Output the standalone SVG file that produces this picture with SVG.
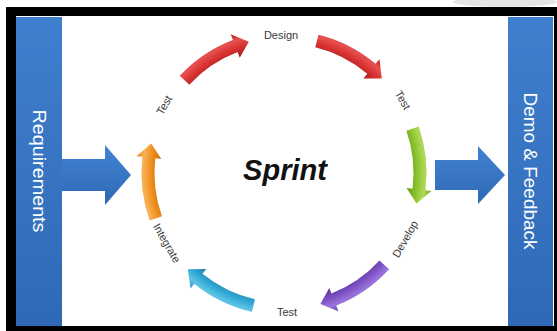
<svg xmlns="http://www.w3.org/2000/svg" xmlns:xlink="http://www.w3.org/1999/xlink" width="557" height="331" viewBox="0 0 557 331">
  <style>
    .lbl { font-family: "Liberation Sans", Arial, sans-serif; font-size: 11px; fill: #3a3a3a; text-anchor: middle; dominant-baseline: central; }
    .bartxt { font-family: "Liberation Sans", Arial, sans-serif; font-size: 18px; fill: #ffffff; text-anchor: middle; dominant-baseline: central; }
    .title { font-family: "Liberation Sans", Arial, sans-serif; font-size: 29px; font-weight: bold; font-style: italic; fill: #111111; text-anchor: middle; }
  </style>
  <defs>
    <linearGradient id="barG" x1="0" y1="0" x2="0" y2="1">
      <stop offset="0" stop-color="#3f7fcd"/>
      <stop offset="1" stop-color="#2f69b6"/>
    </linearGradient>
    <linearGradient id="blueArr" x1="0" y1="0" x2="0" y2="1">
      <stop offset="0" stop-color="#4283d2"/>
      <stop offset="1" stop-color="#2e68b4"/>
    </linearGradient>
    <radialGradient id="gRed" gradientUnits="userSpaceOnUse" cx="284" cy="173" r="148.5">
      <stop offset="0.83" stop-color="#a51a1a"/>
      <stop offset="0.9" stop-color="#d83232"/>
      <stop offset="0.95" stop-color="#e85050"/>
      <stop offset="1" stop-color="#b82020"/>
    </radialGradient>
    <radialGradient id="gGreen" gradientUnits="userSpaceOnUse" cx="284" cy="173" r="148.5">
      <stop offset="0.83" stop-color="#5f9214"/>
      <stop offset="0.9" stop-color="#8cc52e"/>
      <stop offset="0.95" stop-color="#b0da5a"/>
      <stop offset="1" stop-color="#78ad22"/>
    </radialGradient>
    <radialGradient id="gPurple" gradientUnits="userSpaceOnUse" cx="284" cy="173" r="148.5">
      <stop offset="0.83" stop-color="#55309a"/>
      <stop offset="0.9" stop-color="#7d52c4"/>
      <stop offset="0.95" stop-color="#9a74dc"/>
      <stop offset="1" stop-color="#6a42b0"/>
    </radialGradient>
    <radialGradient id="gCyan" gradientUnits="userSpaceOnUse" cx="284" cy="173" r="148.5">
      <stop offset="0.83" stop-color="#1b7ea8"/>
      <stop offset="0.9" stop-color="#30a8d4"/>
      <stop offset="0.95" stop-color="#5ec4e6"/>
      <stop offset="1" stop-color="#2496c2"/>
    </radialGradient>
    <radialGradient id="gOrange" gradientUnits="userSpaceOnUse" cx="284" cy="173" r="148.5">
      <stop offset="0.83" stop-color="#c86c08"/>
      <stop offset="0.9" stop-color="#f0901e"/>
      <stop offset="0.95" stop-color="#f8b257"/>
      <stop offset="1" stop-color="#e08014"/>
    </radialGradient>
    <path id="arc" d="M420.98,133.72 A142.5,142.5 0 0 1 424.34,197.75 L430.24,198.79 L414.73,210.49 L405.62,194.45 L411.53,195.49 A129.5,129.5 0 0 0 408.48,137.30 Z"/>
  </defs>

  <rect x="0" y="0" width="557" height="331" fill="#ffffff"/>
  <ellipse cx="505" cy="2" rx="52" ry="5" fill="#d9d9d9" opacity="0.7"/>
  <rect x="6" y="7" width="551" height="324" fill="#000000"/>
  <rect x="16" y="16" width="538" height="310" fill="#ffffff"/>

  <g id="requirements">
    <rect x="16" y="17" width="46" height="309" fill="url(#barG)"/>
    <text class="bartxt" transform="translate(39,171) rotate(90)" x="0" y="0" textLength="123" lengthAdjust="spacingAndGlyphs">Requirements</text>
  </g>
  <g id="demo-feedback">
    <rect x="508" y="17" width="45" height="309" fill="url(#barG)"/>
    <text class="bartxt" transform="translate(530,171) rotate(90)" x="0" y="0" textLength="157" lengthAdjust="spacingAndGlyphs">Demo &amp; Feedback</text>
  </g>

  <g id="sprint">
    <text class="title" x="285" y="180">Sprint</text>
  </g>

  <g id="labels">
    <text class="lbl" x="281" y="35">Design</text>
    <text class="lbl" transform="translate(403,100) rotate(60)">Test</text>
    <text class="lbl" transform="translate(405,239) rotate(-60)">Develop</text>
    <text class="lbl" x="287" y="312">Test</text>
    <text class="lbl" transform="translate(167,243) rotate(60)">Integrate</text>
    <text class="lbl" transform="translate(164,105) rotate(-60)">Test</text>
  </g>

  <g id="connectors">
    <path d="M62,159 H105 V145 L131,175 L105,205 V191 H62 Z" fill="url(#blueArr)"/>
    <path d="M435,160 H478 V146 L505,175 L478,204 V190 H435 Z" fill="url(#blueArr)"/>
    <use xlink:href="#arc" fill="url(#gRed)" transform="rotate(-121 284 173)"/>
    <use xlink:href="#arc" fill="url(#gRed)" transform="rotate(-60 284 173)"/>
    <use xlink:href="#arc" fill="url(#gGreen)" transform="rotate(-3 284 173)"/>
    <use xlink:href="#arc" fill="url(#gPurple)" transform="rotate(58.5 284 173)"/>
    <use xlink:href="#arc" fill="url(#gCyan)" transform="rotate(119 284 173)"/>
    <use xlink:href="#arc" fill="url(#gOrange)" transform="rotate(176.5 284 173)"/>
  </g>
</svg>
